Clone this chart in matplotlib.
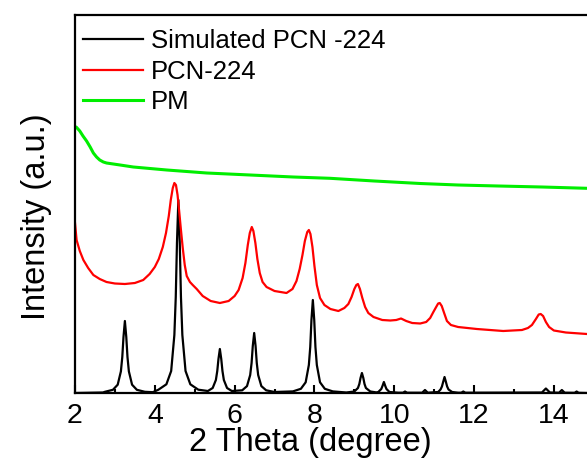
import matplotlib
matplotlib.use("Agg")
import matplotlib.pyplot as plt
from matplotlib.ticker import MultipleLocator

plt.rcParams['font.family'] = ['Liberation Sans', 'DejaVu Sans']

# Simulated PCN-224 (2theta, intensity)
sim_x = [2.0, 2.7, 2.75, 2.95, 3.07, 3.15, 3.185, 3.215, 3.25, 3.285, 3.315, 3.35, 3.43, 3.55, 3.75, 3.95,
         4.09, 4.29, 4.41, 4.49, 4.525, 4.555, 4.59, 4.625, 4.655, 4.69, 4.77, 4.89, 5.09,
         5.33, 5.45, 5.53, 5.565, 5.595, 5.63, 5.665, 5.695, 5.73, 5.81, 5.93,
         6.19, 6.31, 6.39, 6.425, 6.455, 6.49, 6.525, 6.555, 6.59, 6.67, 6.79, 7.0,
         7.46, 7.66, 7.78, 7.86, 7.895, 7.925, 7.96, 7.995, 8.025, 8.06, 8.14, 8.26, 8.46, 8.8,
         9.0, 9.09, 9.125, 9.155, 9.19, 9.225, 9.255, 9.29, 9.4, 9.55,
         9.6, 9.675, 9.705, 9.74, 9.775, 9.805, 9.88, 10.1,
         10.22, 10.27, 10.32, 10.7, 10.77, 10.84,
         11.1, 11.16, 11.195, 11.225, 11.26, 11.295, 11.325, 11.36, 11.45, 11.6,
         11.68, 11.73, 11.78, 13.7, 13.8, 13.9, 14.13, 14.2, 14.27, 14.52, 14.57, 14.62, 14.83]
sim_y = [0.0, 0.5, 1.2, 3.2, 8.3, 21.6, 36, 56, 72, 56, 36, 21.6, 8.3, 3.2, 1.2, 0.8,
         3.3, 8.7, 22, 58, 96, 150, 193, 150, 96, 58, 22, 8.7, 3.3,
         2, 5, 13, 22, 34, 44, 34, 22, 13, 5, 2,
         2.7, 6.9, 18, 30, 47, 60, 47, 30, 18, 6.9, 2.7, 1,
         1.6, 4.2, 10.7, 28, 46, 73, 93, 73, 46, 28, 10.7, 4.2, 1.6, 0.5,
         1.5, 5, 9, 15, 20, 15, 9, 5, 1.5, 0.6,
         1, 4, 7, 11, 7, 4, 1, 0.3,
         0.3, 1.5, 0.3, 0.3, 3, 0.3,
         1, 3.5, 6.5, 11, 16, 11, 6.5, 3.5, 1, 0.3,
         0.3, 1.5, 0.3, 0.5, 4.5, 0.5, 0.3, 3, 0.3, 0.2, 1.5, 0.2, 0.0]

# PCN-224 measured
pcn_x = [2.0, 2.04, 2.12, 2.21, 2.33, 2.46, 2.62, 2.79, 3.0, 3.25, 3.5, 3.71, 3.87, 4.0, 4.1, 4.2,
         4.28, 4.35, 4.40, 4.45, 4.49, 4.53, 4.57, 4.61, 4.65, 4.70, 4.75, 4.80, 4.88, 4.95,
         5.05, 5.2, 5.4, 5.63, 5.85, 6.0, 6.1, 6.2, 6.27, 6.33, 6.38, 6.43, 6.47, 6.52, 6.57,
         6.63, 6.7, 6.8, 7.0, 7.3, 7.45, 7.55, 7.63, 7.7, 7.76, 7.82, 7.86, 7.9, 7.95, 8.0,
         8.06, 8.14, 8.25, 8.4, 8.6, 8.75, 8.85, 8.93, 9.0, 9.05, 9.09, 9.14, 9.2, 9.27, 9.35,
         9.48, 9.7, 9.9, 10.05, 10.17, 10.3, 10.45, 10.65, 10.8, 10.9, 10.98, 11.05, 11.1, 11.14,
         11.19, 11.25, 11.32, 11.42, 11.6, 12.07, 12.73, 13.2, 13.35, 13.45, 13.55, 13.62, 13.67,
         13.73, 13.8, 13.88, 14.0, 14.3, 14.83]
pcn_y = [170, 153, 142, 133, 125, 118, 114, 111, 109.5, 109, 110, 113, 119, 126, 134, 146,
         160, 177, 193, 205, 210, 208, 198, 182, 165, 145, 128, 117, 111, 108,
         104, 97, 92, 90, 92, 97, 103, 115, 130, 148, 160, 166, 162, 150, 134,
         120, 111, 106, 102, 100, 104, 112, 124, 138, 152, 161, 163, 159, 146, 127,
         108, 95, 88, 84, 82, 85, 89, 96, 104, 108, 109, 104, 95, 86, 80,
         76, 73, 72.5, 73, 74.5, 72, 70, 69.5, 71, 75, 81, 86, 89.5, 90,
         87, 80, 72, 68, 66, 64, 62, 63, 65, 68, 74, 78.5, 79,
         77, 71, 66, 62.5, 60.5, 59]

# PM
pm_x = [2.0, 2.03, 2.12, 2.2, 2.29, 2.38, 2.46, 2.54, 2.62, 2.71, 2.79, 3.13, 3.46, 4.3, 5.3, 6.39,
        7.47, 8.39, 9.5, 10.65, 11.6, 12.61, 13.7, 14.83]
pm_y = [265, 266, 262, 257, 252, 246, 240, 236, 233, 231, 230, 228, 226, 223, 220, 218,
        216, 214.7, 212, 209.5, 208, 207, 206, 204.7]

labels = ["Simulated PCN -224", "PCN-224", "PM"]
colors = ["#000000", "#FF0000", "#00EE00"]
xticks = [2, 4, 6, 8, 10, 12, 14]

fig = plt.figure(figsize=(5.87, 4.70), dpi=100)
ax = fig.add_axes([75/587, 77/470, 512/587, 378/470])

ax.plot(sim_x, sim_y, color=colors[0], lw=1.6, label=labels[0])
ax.plot(pcn_x, pcn_y, color=colors[1], lw=1.6, label=labels[1])
ax.plot(pm_x, pm_y, color=colors[2], lw=2.2, label=labels[2])

ax.set_xlim(2, 14.83)
ax.set_ylim(0, 378)
ax.set_xticks(xticks)
ax.set_xticklabels([str(t) for t in xticks])
ax.xaxis.set_minor_locator(MultipleLocator(1))
ax.set_yticks([])
ax.tick_params(axis='x', which='major', direction='in', length=6, width=1.5,
               labelsize=20.5, pad=7)
ax.tick_params(axis='x', which='minor', direction='in', length=3, width=1.5)
for s in ['left', 'bottom', 'top']:
    ax.spines[s].set_linewidth(1.6)
ax.spines['right'].set_visible(False)

ax.set_xlabel("2 Theta (degree)", fontsize=23.5)
ax.xaxis.set_label_coords(0.46, -0.09)
ax.set_ylabel("Intensity (a.u.)", fontsize=23.5)
ax.yaxis.set_label_coords(-0.045, 0.467)

leg = ax.legend(loc='upper left', frameon=False, fontsize=18.5, handlelength=2.35,
                handletextpad=0.3, labelspacing=0.24, borderaxespad=0.0, borderpad=0.0,
                bbox_to_anchor=(8/512, 0.962))

fig.savefig("out.png", dpi=100)
